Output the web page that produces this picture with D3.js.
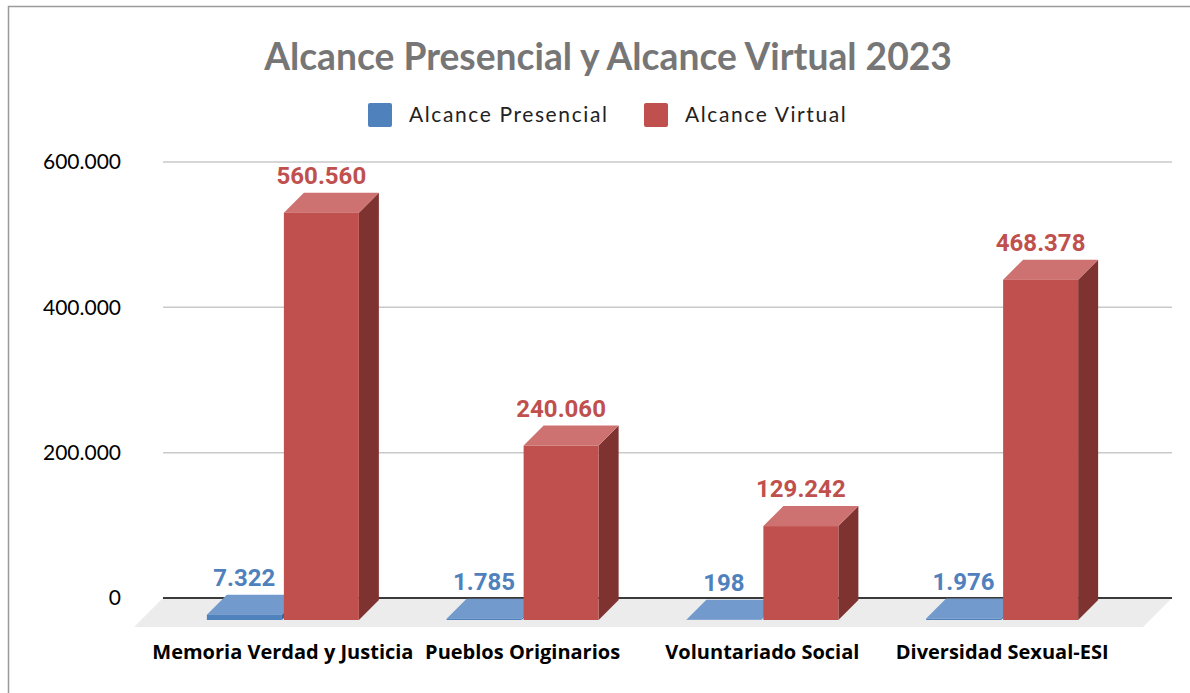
<!DOCTYPE html>
<html>
<head>
<meta charset="utf-8">
<script src="https://cdn.jsdelivr.net/npm/d3@7"></script>
<style>
  body { margin: 0; background: #fff; }
  text { font-family: Lato, "Open Sans", sans-serif; }
</style>
</head>
<body>
<div id="chart"></div>
<script>
/* 3D-style grouped bars: Alcance Presencial vs Virtual */

const categories = ["Memoria Verdad y Justicia", "Pueblos Originarios", "Voluntariado Social", "Diversidad Sexual-ESI"];
const series = ["Alcance Presencial", "Alcance Virtual"];
const presencial = [7322, 1785, 198, 1976];
const virtual = [560560, 240060, 129242, 468378];
const yTicks = [0, 200000, 400000, 600000];

const width = 1190, height = 693;
const wall = ({left: 163, right: 1172, top: 162, bottom: 598});
const depth = ({dx: 20, dy: -20});   // offset from front face to back face
const frontShift = 22;                 // bar front plane sits below the back wall base

const colors = {
    "Alcance Presencial": {front: "#4f81bd", top: "#729acc", side: "#3b6296", label: "#4f81bd"},
    "Alcance Virtual":    {front: "#c0504d", top: "#cd7270", side: "#7e3331", label: "#c0504d"}
};

const es = d3.formatLocale({decimal: ",", thousands: ".", grouping: [3], currency: ["$", ""]});
const fmt = es.format(",d");

let svg = d3.select("#chart")
            .append("svg")
            .attr("width", width)
            .attr("height", height);

// outer frame
svg.append("rect")
   .attr("x", 8.5).attr("y", 6.5)
   .attr("width", width).attr("height", height)
   .attr("fill", "none")
   .attr("stroke", "#9a9a9a")
   .attr("stroke-width", 1.5);

/* scales */
let y = d3.scaleLinear()
          .domain([0, 600000])
          .range([wall.bottom, wall.top]);

let x0 = d3.scaleBand()
           .domain(categories)
           .range([163, 1122])
           .paddingInner(0.366)
           .paddingOuter(0.183);

let x1 = d3.scaleBand()
           .domain(series)
           .range([0, x0.bandwidth()])
           .paddingInner(0.026);

/* gridlines on the back wall */
svg.append("g")
   .selectAll("line")
   .data(yTicks.filter(d => d > 0))
   .join("line")
   .attr("x1", wall.left).attr("x2", wall.right)
   .attr("y1", d => y(d)).attr("y2", d => y(d))
   .attr("stroke", "#c9c9c9")
   .attr("stroke-width", 1.5);

/* floor */
const floorDepth = 29;
svg.append("polygon")
   .attr("points", [
       [wall.left, y(0)], [wall.right, y(0)],
       [wall.right - floorDepth, y(0) + floorDepth], [wall.left - floorDepth, y(0) + floorDepth]
   ].map(p => p.join(",")).join(" "))
   .attr("fill", "#ececec");

svg.append("line")
   .attr("x1", wall.left).attr("x2", wall.right)
   .attr("y1", y(0)).attr("y2", y(0))
   .attr("stroke", "#3a3a3a")
   .attr("stroke-width", 1.8);

/* y axis labels */
const yAxis = g => g
      .attr("transform", `translate(${wall.left}, 0)`)
      .call(d3.axisLeft(y).tickValues(yTicks).tickFormat(fmt).tickSize(0).tickPadding(42))
      .call(g => g.select(".domain").remove())
      .call(g => g.selectAll("text")
                  .style("font-family", "Lato, sans-serif")
                  .style("font-size", "21px")
                  .attr("fill", "#000"));

svg.append("g").call(yAxis);

/* bars */
let rows = [];
categories.forEach((c, i) => {
    rows.push({cat: c, key: series[0], value: presencial[i]});
    rows.push({cat: c, key: series[1], value: virtual[i]});
});

const base = y(0) + frontShift;

let bar = svg.selectAll(".bar")
    .data(rows)
    .join("g")
    .attr("class", "bar");

const geo = d => {
    const x = x0(d.cat) + x1(d.key), w = x1.bandwidth();
    const h = y(0) - y(d.value);
    return {x, w, top: base - h, bottom: base};
};

// right side face
bar.append("polygon")
   .attr("points", d => {
       const g = geo(d);
       return [[g.x + g.w, g.bottom], [g.x + g.w + depth.dx, g.bottom + depth.dy],
               [g.x + g.w + depth.dx, g.top + depth.dy], [g.x + g.w, g.top]].map(p => p.join(",")).join(" ");
   })
   .attr("fill", d => colors[d.key].side);

// top face
bar.append("polygon")
   .attr("points", d => {
       const g = geo(d);
       return [[g.x, g.top], [g.x + g.w, g.top],
               [g.x + g.w + depth.dx, g.top + depth.dy], [g.x + depth.dx, g.top + depth.dy]].map(p => p.join(",")).join(" ");
   })
   .attr("fill", d => colors[d.key].top);

// front face
bar.append("rect")
   .attr("x", d => geo(d).x)
   .attr("y", d => geo(d).top)
   .attr("width", x1.bandwidth())
   .attr("height", d => geo(d).bottom - geo(d).top)
   .attr("fill", d => colors[d.key].front);

// value labels
bar.append("text")
   .text(d => fmt(d.value))
   .attr("x", d => geo(d).x + x1.bandwidth() / 2)
   .attr("y", d => geo(d).top + depth.dy - 9)
   .attr("text-anchor", "middle")
   .style("font-family", "Roboto, sans-serif")
   .style("font-weight", "bold")
   .style("font-size", "24px")
   .style("fill", d => colors[d.key].label);

/* category labels */
svg.append("g")
   .selectAll("text")
   .data(categories)
   .join("text")
   .text(d => d)
   .attr("x", d => x0(d) + x0.bandwidth() / 2)
   .attr("y", 659)
   .attr("text-anchor", "middle")
   .style("font-family", "'Open Sans', sans-serif")
   .style("font-weight", "bold")
   .style("font-size", "20px")
   .style("fill", "#000");

/* title */
svg.append("text")
   .text("Alcance Presencial y Alcance Virtual 2023")
   .attr("x", 608)
   .attr("y", 70)
   .attr("text-anchor", "middle")
   .style("font-weight", "bold")
   .style("font-size", "37.2px")
   .style("fill", "#767676");

/* legend */
const legendX = [368, 644];
let legend = svg.append("g")
    .selectAll("g")
    .data(series)
    .join("g")
    .attr("transform", (d, i) => `translate(${legendX[i]}, 103)`);

legend.append("rect")
      .attr("width", 24).attr("height", 24).attr("rx", 2)
      .attr("fill", d => colors[d].front);

legend.append("text")
      .text(d => d)
      .attr("x", 41)
      .attr("y", 19)
      .style("font-size", "21px")
      .style("letter-spacing", "1.6px")
      .style("fill", "#222");
</script>
</body>
</html>
